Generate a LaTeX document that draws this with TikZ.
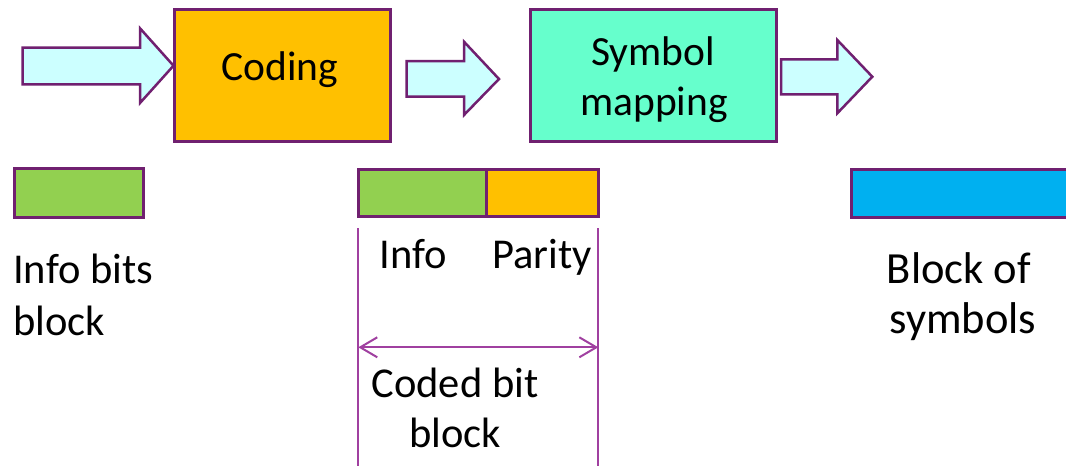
\documentclass[tikz,border=0pt]{standalone}
\usepackage{fontspec}
\setmainfont{Carlito}
\usetikzlibrary{arrows.meta}
\definecolor{bord}{HTML}{702070}
\definecolor{dimc}{HTML}{A040A0}
\definecolor{orng}{HTML}{FFC000}
\definecolor{grn}{HTML}{92D050}
\definecolor{lcyan}{HTML}{CCFFFF}
\definecolor{aqua}{HTML}{66FFCC}
\definecolor{blu}{HTML}{00B0F0}
\begin{document}
\begin{tikzpicture}[x=1pt,y=-1pt,
  txt/.style={font=\fontsize{42.5}{51}\selectfont,inner sep=0pt,anchor=base},
  boxtxt/.style={font=\fontsize{41.5}{50}\selectfont,inner sep=0pt,anchor=base},
  bigtxt/.style={font=\fontsize{44.5}{51}\selectfont,inner sep=0pt,anchor=base},
  procbox/.style={draw=bord,line width=3pt,inner sep=0pt},
  bar/.style={draw=bord,line width=3pt},
  blockarrow/.style={draw=bord,line width=2.5pt,fill=lcyan,line join=miter},
  dimline/.style={draw=dimc,line width=2pt}]
\useasboundingbox (0,0) rectangle (1066,466);
% boxes
\node[procbox,fill=orng,minimum width=216pt,minimum height=132pt] (coding) at (282,75.3) {};
\node[boxtxt] (codingtxt) at (280,80) {Coding};
\node[procbox,fill=aqua,minimum width=245.7pt,minimum height=132pt] (symmap) at (653.8,75.3) {};
\node[boxtxt] (symtxt1) at (653,65) {Symbol};
\node[boxtxt] (symtxt2) at (654,115) {mapping};
% block arrows
\draw[blockarrow] (22.7,47.7) -- (140,47.7) -- (140,28.3) -- (173.5,65.7) -- (140,103) -- (140,84.3) -- (22.7,84.3) -- cycle;
\draw[blockarrow] (406.7,61) -- (464,61) -- (464,41.7) -- (499,79) -- (464,115) -- (464,96.7) -- (406.7,96.7) -- cycle;
\draw[blockarrow] (781,59.3) -- (837.3,59.3) -- (837.3,40) -- (872.3,76.7) -- (837.3,113.3) -- (837.3,94.3) -- (781,94.3) -- cycle;
% bars
\draw[bar,fill=grn] (14,168.5) rectangle (143,217);
\draw[bar,fill=grn] (358.3,169) rectangle (486.7,216.7);
\draw[bar,fill=orng] (486.7,169) rectangle (598.3,216.7);
\draw[bar,fill=blu] (851,169) rectangle (1075,217);
% labels
\node[txt,anchor=base west] (ib1) at (13,283) {Info bits};
\node[txt,anchor=base west] (ib2) at (13,335) {block};
\node[txt] (info) at (413,268) {Info};
\node[txt] (parity) at (542,268) {Parity};
\node[txt] (cb1) at (455,397) {Coded bit};
\node[txt] (cb2) at (455,447) {block};
\node[bigtxt] (bs1) at (959,283) {Block of};
\node[bigtxt] (bs2) at (963,333) {symbols};
% dimension
\coordinate (lt) at (358.3,228);
\coordinate (lb) at (358.3,470);
\coordinate (rt) at (598.3,228);
\coordinate (rb) at (598.3,470);
\draw[dimline] (lt) -- (lb);
\draw[dimline] (rt) -- (rb);
\coordinate (dl) at (358.3,347.3);
\coordinate (dr) at (598.3,347.3);
\draw[dimline,{Straight Barb[length=17pt,width=20pt,line width=2pt]}-{Straight Barb[length=17pt,width=20pt,line width=2pt]}] (dl) -- (dr);
\end{tikzpicture}
\end{document}
